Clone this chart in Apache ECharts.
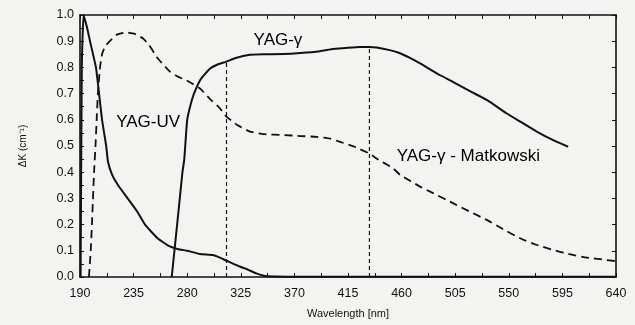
<!DOCTYPE html>
<html><head><meta charset="utf-8">
<script src="https://cdn.jsdelivr.net/npm/echarts@6/dist/echarts.min.js"></script>
<style>html,body{margin:0;padding:0;background:#f3f3f1}#c{width:635px;height:325px}</style>
</head><body><div id="c"></div>
<script>
// Tick labels
const xTicks = [190, 235, 280, 325, 370, 415, 460, 505, 550, 595, 640];
const yTicks = [0.0, 0.1, 0.2, 0.3, 0.4, 0.5, 0.6, 0.7, 0.8, 0.9, 1.0];

// YAG-UV (solid)
const uvWl  = [190.5, 191.5, 193, 196, 198.4, 203.4, 206, 208.5, 212, 213.5, 217, 222, 230, 238, 244.6, 254.6, 264, 272, 280, 290.7, 301.7, 307, 311.7, 318, 324, 331, 338, 346.7, 400, 500, 640];
const uvK   = [0.0, 0.8, 1.0, 0.95, 0.9, 0.8, 0.7, 0.6, 0.5, 0.44, 0.39, 0.35, 0.3, 0.25, 0.2, 0.15, 0.12, 0.107, 0.1, 0.088, 0.084, 0.075, 0.065, 0.052, 0.04, 0.028, 0.014, 0.003, 0.001, 0.001, 0.001];

// YAG-γ (solid)
const gWl = [267, 272, 276, 277.5, 280, 283, 285.7, 290.7, 295, 299, 305, 313, 320, 332.7, 345, 360.6, 375, 391.5, 402.6, 415, 425, 433, 439, 450, 458.7, 467, 475.5, 492, 503, 517, 531.5, 548, 560, 573.5, 586, 599.8];
const gK  = [0.0, 0.22, 0.4, 0.447, 0.6, 0.66, 0.7, 0.75, 0.775, 0.795, 0.81, 0.822, 0.835, 0.848, 0.85, 0.851, 0.855, 0.862, 0.87, 0.875, 0.878, 0.878, 0.876, 0.866, 0.854, 0.836, 0.815, 0.771, 0.745, 0.71, 0.676, 0.625, 0.592, 0.555, 0.525, 0.497];

// YAG-γ - Matkowski (dashed)
const mWl = [197.5, 199, 200, 201.8, 203, 204, 205, 206.8, 208.5, 211, 215, 221, 229, 236, 243, 248, 254.4, 260, 265.6, 272, 279.6, 290.7, 299, 307.5, 313, 322, 332.7, 345, 360.7, 375, 388.7, 400, 408.3, 420, 433.5, 439, 452.8, 458.7, 475.5, 486.5, 503.5, 517, 531.5, 545, 559.4, 573, 587.4, 600, 615.4, 630, 639];
const mK  = [0.0, 0.1, 0.2, 0.4, 0.5, 0.6, 0.7, 0.8, 0.85, 0.88, 0.9, 0.925, 0.934, 0.928, 0.91, 0.885, 0.84, 0.81, 0.784, 0.765, 0.75, 0.72, 0.68, 0.644, 0.612, 0.58, 0.555, 0.545, 0.542, 0.538, 0.535, 0.528, 0.516, 0.498, 0.47, 0.452, 0.415, 0.39, 0.345, 0.32, 0.281, 0.25, 0.218, 0.183, 0.148, 0.123, 0.103, 0.088, 0.074, 0.066, 0.061];

// Vertical dashed markers
const markWl = [313, 433];
const markK  = [0.822, 0.877];

// Text labels: (label centres)
const labelNames = ['YAG-UV', 'YAG-γ', 'YAG-γ - Matkowski'];
const labelWl = [247.2, 356.2, 516];
const labelK  = [0.589, 0.905, 0.462];

const X0 = 190;
const pairs = (xs, ys) => xs.map((x, i) => [x - X0, ys[i]]);

const chart = echarts.init(document.getElementById('c'), null, {renderer: 'canvas'});
const font = 'Liberation Sans, Arial, sans-serif';
const axisLine = {show: true, onZero: false, lineStyle: {color: '#111', width: 1.6}};

const series = [
  {type: 'line', data: pairs(uvWl, uvK), showSymbol: false, smooth: 0.12, lineStyle: {color: '#111', width: 2}},
  {type: 'line', data: pairs(gWl, gK), showSymbol: false, smooth: 0.15, lineStyle: {color: '#111', width: 2}},
  {type: 'line', data: pairs(mWl, mK), showSymbol: false, smooth: 0.12, lineStyle: {color: '#111', width: 1.8, type: [8, 5]}}
];
markWl.forEach((w, i) => {
  series.push({type: 'line', data: [[w - X0, 0], [w - X0, markK[i]]], showSymbol: false, lineStyle: {color: '#111', width: 1.2, type: [4, 3]}});
});
series.push({
  type: 'scatter', symbolSize: 1, itemStyle: {opacity: 1, color: 'rgba(0,0,0,0)'},
  data: labelWl.map((w, i) => ({value: [w - X0, labelK[i]], name: labelNames[i]})),
  label: {show: true, position: 'inside', formatter: p => p.name, color: '#000', opacity: 1, fontFamily: font, fontSize: 17},
  silent: true
});

chart.setOption({
  backgroundColor: '#f3f3f1',
  animation: false,
  grid: {left: 80, right: 19, top: 15, bottom: 48},
  xAxis: [
    {type: 'value', min: 0, max: 450, interval: 45, position: 'bottom',
     name: 'Wavelength [nm]', nameLocation: 'middle', nameGap: 31,
     nameTextStyle: {fontFamily: font, fontSize: 11, color: '#111'},
     axisLine: axisLine, axisTick: {show: true, inside: true, length: 4, lineStyle: {color: '#111'}},
     minorTick: {show: true, splitNumber: 2, length: 4, lineStyle: {color: '#111'}},
     splitLine: {show: false},
     axisLabel: {formatter: v => String(v + X0), fontFamily: font, fontSize: 12.5, color: '#111', margin: 10}},
    {type: 'value', min: 0, max: 450, interval: 22.5, position: 'top',
     axisLine: axisLine, axisTick: {show: true, inside: true, length: 4, lineStyle: {color: '#111'}},
     splitLine: {show: false}, axisLabel: {show: false}}
  ],
  yAxis: [
    {type: 'value', min: 0, max: 1, interval: 0.1, position: 'left',
     name: 'ΔK (cm⁻¹)', nameLocation: 'middle', nameGap: 52, nameRotate: 90,
     nameTextStyle: {fontFamily: font, fontSize: 10, color: '#111'},
     axisLine: axisLine, axisTick: {show: true, inside: true, length: 4, lineStyle: {color: '#111'}},
     minorTick: {show: true, splitNumber: 2, length: 4, lineStyle: {color: '#111'}},
     splitLine: {show: false},
     axisLabel: {formatter: v => yTicks[Math.round(v * 10)].toFixed(1), fontFamily: font, fontSize: 12.5, color: '#111', margin: 6}},
    {type: 'value', min: 0, max: 1, interval: 0.1, position: 'right',
     axisLine: axisLine, axisTick: {show: true, inside: true, length: 4, lineStyle: {color: '#111'}},
     splitLine: {show: false}, axisLabel: {show: false}}
  ],
  series: series
});
</script></body></html>
